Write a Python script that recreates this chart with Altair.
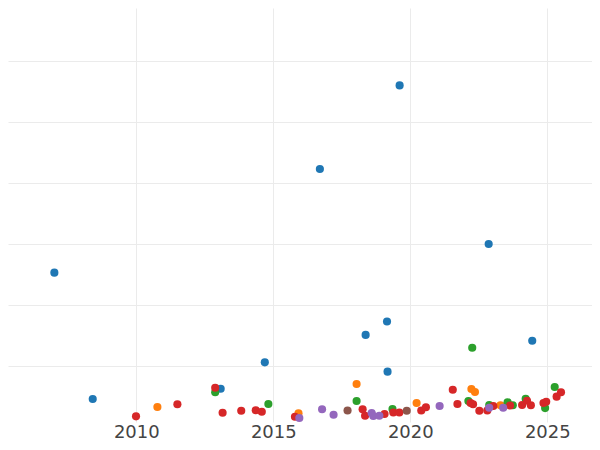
import altair as alt
import pandas as pd

series_names = ["A", "B", "C", "D", "E", "F"]
series_colors = ["#1f77b4", "#ff7f0e", "#2ca02c", "#d62728", "#9467bd", "#8c564b"]

a_year = [2007.01, 2008.41, 2013.08, 2014.69, 2016.70, 2018.37, 2019.15, 2019.17, 2019.61, 2022.86, 2024.45]
a_value = [25.3, 4.59, 6.28, 10.6, 42.3, 15.1, 17.3, 9.07, 56.0, 30.0, 14.15]

b_year = [2010.77, 2015.92, 2018.04, 2020.23, 2022.23, 2022.36, 2023.29]
b_value = [3.28, 2.25, 7.05, 3.93, 6.23, 5.74, 3.57]

c_year = [2012.88, 2014.82, 2018.04, 2019.35, 2022.12, 2022.26, 2022.88, 2023.55, 2023.74,
          2024.21, 2024.92, 2025.27]
c_value = [5.69, 3.77, 4.26, 2.95, 4.26, 13.0, 3.6, 4.05, 3.56, 4.64, 3.1, 6.56]

d_year = [2009.99, 2011.5, 2012.88, 2013.15, 2013.83, 2014.36, 2014.58, 2015.79, 2018.26, 2018.35,
          2019.06, 2019.38, 2019.6, 2020.4, 2020.57, 2021.55, 2021.72, 2022.2, 2022.29, 2022.52,
          2022.81, 2023.03, 2023.64, 2024.08, 2024.26, 2024.4, 2024.86, 2024.96, 2025.34, 2025.5]
d_value = [1.75, 3.72, 6.44, 2.34, 2.67, 2.74, 2.51, 1.69, 2.9, 1.84,
           2.13, 2.38, 2.38, 2.7, 3.23, 6.1, 3.77, 3.93, 3.74, 2.66,
           2.7, 3.44, 3.52, 3.6, 4.3, 3.56, 3.93, 4.15, 4.97, 5.69]

e_year = [2015.95, 2016.78, 2017.2, 2018.59, 2018.65, 2018.87, 2021.07, 2022.88, 2023.39]
e_value = [1.48, 2.92, 2.0, 2.3, 1.8, 1.84, 3.44, 3.16, 3.16]

f_year = [2017.71, 2019.87]
f_value = [2.7, 2.67]

x_ticks = [2010, 2015, 2020, 2025]
y_grid = [10, 20, 30, 40, 50, 60]

rows = []
idx = 0
for name, years, values in zip(series_names,
                                [a_year, b_year, c_year, d_year, e_year, f_year],
                                [a_value, b_value, c_value, d_value, e_value, f_value]):
    for yr, v in zip(years, values):
        rows.append({"series": name, "year": yr, "value": v, "idx": idx})
        idx += 1
df = pd.DataFrame(rows)

grid_color = "#ebebeb"

chart = alt.Chart(df).mark_circle(size=66, opacity=1).encode(
    x=alt.X("year:Q",
            scale=alt.Scale(domain=[2005.318, 2026.631], nice=False, zero=False),
            axis=alt.Axis(values=x_ticks, format="d", title=None, domain=False, ticks=False,
                          labelFontSize=18, labelColor="#444444", labelFont="DejaVu Sans",
                          labelPadding=1, gridColor=grid_color, gridWidth=1, labelFlush=False)),
    y=alt.Y("value:Q",
            scale=alt.Scale(domain=[0.82, 68.69], nice=False, zero=False),
            axis=alt.Axis(values=y_grid, labels=False, title=None, domain=False, ticks=False,
                          gridColor=grid_color, gridWidth=1)),
    color=alt.Color("series:N", scale=alt.Scale(domain=series_names, range=series_colors), legend=None),
    order=alt.Order("idx:Q"),
).properties(
    width=584,
    height=414,
    autosize=alt.AutoSizeParams(type="none"),
    padding={"left": 0, "top": 0, "right": 0, "bottom": 20},
).configure_view(stroke=None)

chart.save("out.html", embed_options={"renderer": "svg", "actions": False})
